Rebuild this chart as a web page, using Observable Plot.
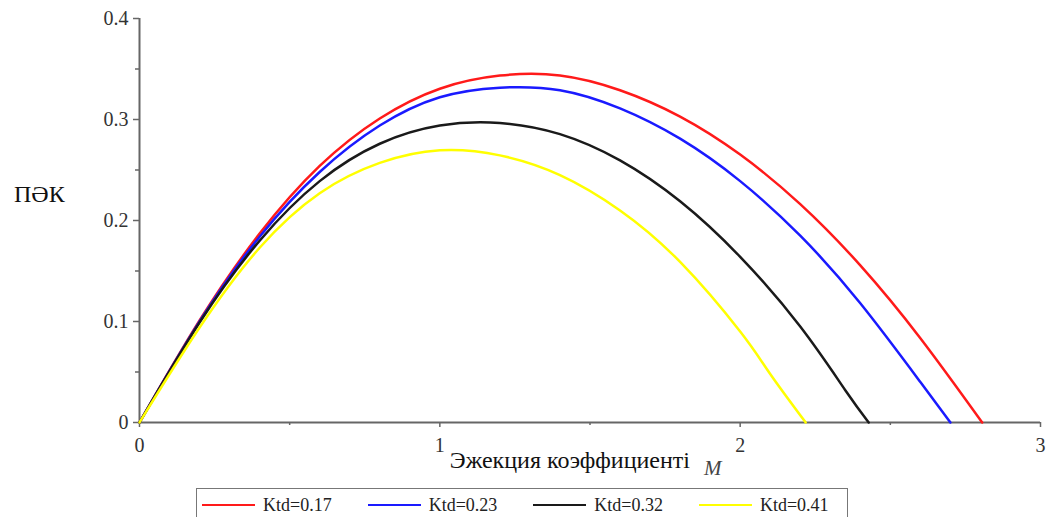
<!DOCTYPE html>
<html><head><meta charset="utf-8">
<script src="https://cdn.jsdelivr.net/npm/d3@7"></script>
<script src="https://cdn.jsdelivr.net/npm/@observablehq/plot@0.6"></script>
<style>
body{margin:0;background:#fff;font-family:"Liberation Serif","Times New Roman","DejaVu Serif",serif;}
#wrap{position:relative;width:1047px;height:517px;overflow:hidden;background:#fff}
#legend{position:absolute;left:196px;top:488px;width:652px;height:34px;border:1.5px solid #777;display:flex;align-items:center;box-sizing:border-box;padding-left:5px;gap:36px;font-family:"Liberation Serif","Times New Roman","DejaVu Serif",serif;font-size:18px;color:#222}
.item{display:flex;align-items:center}
.sw{width:53px;height:2.5px;margin-right:8px}
</style></head>
<body><div id="wrap"><div id="chart"></div><div id="legend"></div></div>
<script>
// Series labels
const seriesNames = ["Ktd=0.17", "Ktd=0.23", "Ktd=0.32", "Ktd=0.41"];
// Ejection coefficient M (x) and ПӘК (y) per series
const m017 = [0, 0.2, 0.4, 0.6, 0.8, 1.0, 1.2, 1.4, 1.6, 1.8, 2.0, 2.2, 2.4, 2.6, 2.806];
const k017 = [0, 0.101, 0.187, 0.254, 0.301, 0.3305, 0.3435, 0.3436, 0.329, 0.3029, 0.2653, 0.2162, 0.1556, 0.0835, 0];
const m023 = [0, 0.2, 0.4, 0.6, 0.8, 1.0, 1.2, 1.4, 1.6, 1.8, 2.0, 2.2, 2.4, 2.6, 2.70];
const k023 = [0, 0.100, 0.184, 0.248, 0.294, 0.322, 0.3315, 0.329, 0.311, 0.281, 0.239, 0.185, 0.118, 0.040, 0];
const m032 = [0, 0.2, 0.4, 0.6, 0.8, 1.0, 1.2, 1.4, 1.6, 1.8, 2.0, 2.2, 2.35, 2.428];
const k032 = [0, 0.099, 0.180, 0.239, 0.276, 0.294, 0.2965, 0.2855, 0.2595, 0.219, 0.164, 0.095, 0.032, 0];
const m041 = [0, 0.2, 0.4, 0.6, 0.8, 1.0, 1.2, 1.4, 1.6, 1.8, 2.0, 2.1, 2.218];
const k041 = [0, 0.094, 0.173, 0.227, 0.257, 0.2695, 0.2645, 0.245, 0.210, 0.159, 0.090, 0.048, 0];
// Axis ticks
const xMajor = [0, 1, 2, 3];
const xMinor = [0.5, 1.5, 2.5];
const yMajor = [0, 0.1, 0.2, 0.3, 0.4];
const yMinor = [0.05, 0.15, 0.25, 0.35];
const xTitle = "Эжекция коэффициенті";
const xVar = "M";
const yTitle = "ПӘК";

const colors = ["#ff1a1a", "#1a1aff", "#1a1a1a", "#ffff00"];
const serif = '"Liberation Serif", "Times New Roman", "DejaVu Serif", serif';
const xs = [m017, m023, m032, m041];
const ys = [k017, k023, k032, k041];
const rows = [];
seriesNames.forEach((s, i) => xs[i].forEach((m, j) => rows.push({series: s, m, v: ys[i][j]})));

const axisColor = "#666";
const chart = Plot.plot({
  width: 1047, height: 488,
  marginLeft: 139, marginRight: 7, marginTop: 18, marginBottom: 66,
  x: {domain: [0, 3]},
  y: {domain: [0, 0.4]},
  color: {domain: seriesNames, range: colors},
  style: {fontFamily: serif, background: "#fff", color: "#333"},
  marks: [
    Plot.axisX({ticks: xMajor, tickSize: 5, tickPadding: 10, label: null, tickFormat: d => String(d), fontSize: 20, stroke: axisColor, strokeWidth: 1.5, fill: "#333"}),
    Plot.axisX({ticks: xMinor, tickSize: 3, label: null, tickFormat: () => "", stroke: axisColor, strokeWidth: 1.5}),
    Plot.axisY({ticks: yMajor, tickSize: 6, tickPadding: 5, label: null, tickFormat: d => d === 0 ? "0" : d.toFixed(1), fontSize: 20, stroke: axisColor, strokeWidth: 1.5, fill: "#333"}),
    Plot.axisY({ticks: yMinor, tickSize: 4, label: null, tickFormat: () => "", stroke: axisColor, strokeWidth: 1.5}),
    Plot.ruleY([0], {stroke: axisColor, strokeWidth: 2}),
    Plot.ruleX([0], {stroke: axisColor, strokeWidth: 2}),
    Plot.line(rows, {x: "m", y: "v", z: "series", stroke: "series", strokeWidth: 2.5, curve: "natural"})
  ]
});
document.getElementById("chart").appendChild(chart);
const svg = d3.select(chart);
svg.append("text").attr("x", 690).attr("y", 468).attr("text-anchor", "end")
  .style("font-size", "24px").style("font-family", serif).attr("fill", "#111").text(xTitle);
svg.append("text").attr("x", 704).attr("y", 475).attr("text-anchor", "start")
  .style("font-size", "21px").style("font-style", "italic").style("font-family", serif).attr("fill", "#444").text(xVar);
svg.append("text").attr("x", 14).attr("y", 202).attr("text-anchor", "start")
  .style("font-size", "24px").style("font-family", serif).attr("fill", "#111").text(yTitle);

const leg = d3.select("#legend");
seriesNames.forEach((s, i) => {
  const it = leg.append("div").attr("class", "item");
  it.append("div").attr("class", "sw").style("background", colors[i]);
  it.append("span").text(s);
});
</script></body></html>
